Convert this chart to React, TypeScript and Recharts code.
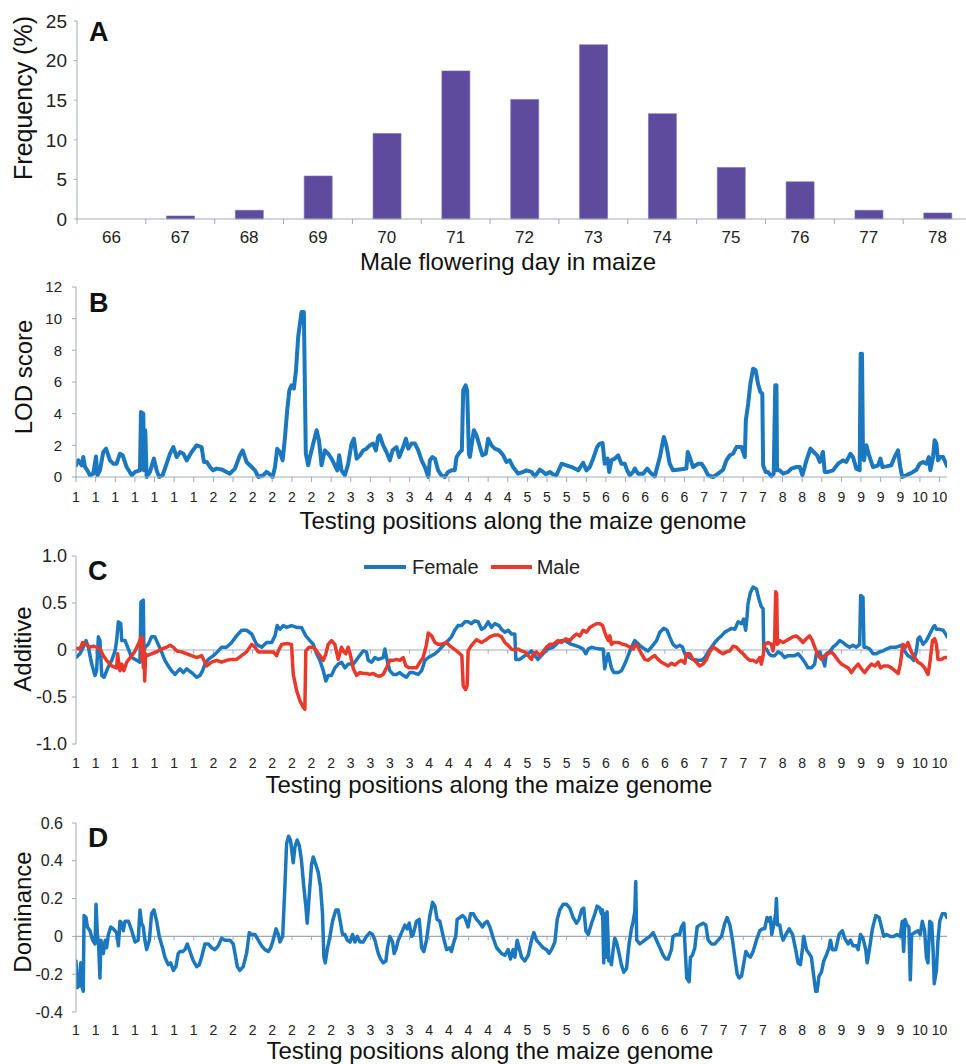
import React from 'react';
import { BarChart, Bar, LineChart, Line, XAxis, YAxis, ReferenceLine, Legend } from 'recharts';

const FONT = '"Liberation Sans", Arial, Helvetica, sans-serif';
const AXIS = '#9DABBA';
const TXT = '#222222';
const BLUE = '#1C78BE';
const RED = '#E8392B';
const PURPLE = '#5E4B9E';

// ---------- Panel A ----------
const days = ['66', '67', '68', '69', '70', '71', '72', '73', '74', '75', '76', '77', '78'];
const freq = [0, 0.38, 1.1, 5.43, 10.8, 18.7, 15.1, 22.0, 13.3, 6.5, 4.7, 1.1, 0.76];
const freqTicks = [0, 5, 10, 15, 20, 25];

// ---------- Shared genome axis ----------
const chrTicks = ['1','1','1','1','1','1','1','2','2','2','2','2','2','2','3','3','3','3','4','4','4','4','4','5','5','5','5','6','6','6','6','6','7','7','7','7','8','8','8','9','9','9','9','10','10'];
const posTicks = chrTicks.map((_, i) => i);
const genomeEnd = 44.38;

// ---------- Panel B (LOD) : [position, LOD] ----------
const lodPts = [[0,0.74],[0.12,1.05],[0.29,0.74],[0.37,1.26],[0.46,0.63],[0.58,0.42],[0.71,0.11],[0.88,0.21],[1.02,1.3],[1.09,0.11],[1.22,0.42],[1.39,1.58],[1.53,1.79],[1.73,1.05],[1.9,0.84],[2.07,0.84],[2.24,1.47],[2.38,1.37],[2.58,0.63],[2.84,0.11],[3.01,0.32],[3.26,0.42],[3.31,4.1],[3.43,4.0],[3.46,0.42],[3.53,2.95],[3.6,0],[3.77,0.32],[3.97,1.16],[4.11,0.42],[4.24,0],[4.41,0.11],[4.62,0.84],[4.79,1.47],[4.96,1.89],[5.13,1.26],[5.3,1.58],[5.47,1.47],[5.64,1.05],[5.89,1.58],[6.15,2.0],[6.4,1.89],[6.52,0.95],[6.66,0.95],[6.83,0.63],[6.99,0.42],[7.16,0.53],[7.42,0.48],[7.67,0.32],[7.84,0.21],[8.1,0.53],[8.35,1.37],[8.49,1.68],[8.69,0.95],[8.95,0.63],[9.12,0.42],[9.29,0],[9.54,0.11],[9.71,0.32],[9.88,0.17],[10.02,0],[10.14,0.63],[10.25,1.79],[10.39,1.58],[10.53,1.05],[10.65,2.53],[10.76,4.21],[10.87,5.47],[10.98,5.79],[11.1,5.58],[11.21,6.74],[11.32,8.84],[11.49,10.42],[11.61,10.42],[11.71,1.47],[11.83,0.74],[11.92,1.26],[12.09,2.11],[12.26,2.95],[12.38,2.32],[12.51,0.74],[12.68,1.68],[12.85,1.47],[13.02,1.16],[13.19,0.74],[13.31,0.42],[13.41,1.37],[13.53,0.42],[13.7,0.11],[13.87,0.84],[14.04,2.11],[14.16,2.42],[14.3,1.16],[14.47,1.37],[14.63,1.68],[14.8,1.79],[14.97,2.0],[15.14,2.11],[15.28,1.68],[15.4,2.53],[15.48,2.63],[15.65,2.0],[15.82,1.58],[15.99,1.05],[16.13,1.68],[16.33,1.89],[16.47,1.26],[16.67,1.89],[16.81,2.42],[16.93,1.79],[17.1,2.11],[17.27,2.11],[17.44,1.68],[17.61,1.05],[17.78,0.63],[17.95,0],[18.03,1.05],[18.15,1.26],[18.29,1.16],[18.45,0.42],[18.62,0.11],[18.79,0],[18.96,0.32],[19.13,0.42],[19.3,0.42],[19.39,1.26],[19.56,1.58],[19.66,1.68],[19.73,5.47],[19.85,5.79],[19.93,5.47],[20.02,1.47],[20.07,1.26],[20.27,2.95],[20.41,2.63],[20.58,1.89],[20.71,1.37],[20.88,1.47],[21.0,2.42],[21.17,2.0],[21.34,1.79],[21.56,1.68],[21.77,1.37],[21.93,0.95],[22.1,1.05],[22.27,0.63],[22.53,0.21],[22.78,0.32],[22.95,0.42],[23.21,0.32],[23.38,0.04],[23.63,0.46],[23.8,0.32],[23.94,0.17],[24.14,0.32],[24.31,0.17],[24.48,0.11],[24.74,0.84],[24.99,0.74],[25.33,0.59],[25.59,0.42],[25.84,0.9],[26.01,0.42],[26.18,0.63],[26.35,1.16],[26.55,1.89],[26.69,2.11],[26.83,2.15],[26.94,0.84],[27.08,1.16],[27.17,0.32],[27.28,1.05],[27.45,1.16],[27.62,1.37],[27.79,0.84],[27.96,0.84],[28.08,0.42],[28.22,0.11],[28.39,0.32],[28.47,0.53],[28.64,0.21],[28.9,0.21],[29.1,0.53],[29.32,0.21],[29.49,0.04],[29.75,1.26],[29.95,2.53],[30.08,2.0],[30.25,0.84],[30.42,0.42],[30.76,0.48],[31.1,0.53],[31.17,1.58],[31.27,1.26],[31.44,0.63],[31.7,0.84],[31.87,0.84],[32.04,0.53],[32.21,0.11],[32.46,0],[32.72,0.21],[32.97,0.46],[33.14,1.05],[33.31,1.37],[33.48,1.47],[33.65,1.89],[33.91,1.89],[34.08,1.26],[34.13,3.58],[34.25,4.63],[34.36,5.89],[34.5,6.84],[34.63,6.74],[34.75,5.89],[34.87,5.37],[34.97,5.26],[35.01,0.74],[35.14,0.32],[35.26,0.32],[35.43,0.04],[35.55,0.21],[35.63,5.79],[35.69,5.79],[35.72,0.42],[35.86,0.42],[36.03,0.21],[36.28,0.32],[36.45,0.53],[36.71,0.63],[36.88,0.63],[37.01,0.11],[37.22,1.05],[37.42,1.79],[37.59,1.58],[37.76,1.37],[37.9,0.95],[38.06,1.58],[38.15,0.32],[38.32,0.32],[38.57,0.42],[38.83,0.84],[39.08,1.05],[39.25,0.95],[39.46,1.47],[39.59,1.26],[39.76,0.53],[39.93,0.42],[39.98,7.79],[40.05,7.79],[40.1,1.16],[40.15,1.05],[40.27,2.0],[40.41,1.37],[40.61,0.63],[40.87,0.74],[40.99,1.16],[41.09,0.63],[41.3,0.67],[41.54,0.74],[41.71,1.26],[41.88,1.68],[42.0,0.63],[42.1,0],[42.31,0.11],[42.48,0.21],[42.65,0.32],[42.82,0.46],[42.99,0.84],[43.16,0.95],[43.33,0.84],[43.46,1.26],[43.53,0.42],[43.67,1.26],[43.75,2.32],[43.84,2.11],[43.92,1.05],[44.04,1.26],[44.18,1.26],[44.38,0.69]];
const lodTicks = [0, 2, 4, 6, 8, 10, 12];

// ---------- Panel C (Additive) ----------
const seriesNames = ['Female', 'Male'];
const femalePts = [[0,-0.08],[0.2,-0.04],[0.37,0.03],[0.51,0.1],[0.63,0.03],[0.8,-0.15],[0.97,-0.27],[1.05,-0.22],[1.14,0.14],[1.22,0.1],[1.31,-0.27],[1.43,-0.29],[1.6,-0.2],[1.82,-0.11],[1.99,-0.01],[2.07,0.1],[2.16,0.3],[2.28,0.28],[2.33,0.1],[2.5,0.1],[2.67,0.01],[2.84,-0.08],[3.09,-0.11],[3.26,-0.13],[3.31,0.51],[3.43,0.53],[3.46,-0.01],[3.53,0.03],[3.68,0.06],[3.85,0.14],[4.02,0.14],[4.19,0.06],[4.36,-0.02],[4.53,-0.11],[4.7,-0.17],[4.87,-0.22],[5.04,-0.26],[5.3,-0.2],[5.47,-0.24],[5.64,-0.2],[5.89,-0.24],[6.15,-0.29],[6.32,-0.27],[6.45,-0.22],[6.57,-0.15],[6.74,-0.1],[7.0,-0.06],[7.25,-0.01],[7.42,0.03],[7.67,0.03],[7.93,0.08],[8.18,0.15],[8.44,0.21],[8.69,0.21],[8.95,0.17],[9.2,0.06],[9.46,0.03],[9.71,0.08],[9.97,0.08],[10.14,0.15],[10.25,0.26],[10.39,0.22],[10.56,0.26],[10.73,0.24],[10.98,0.26],[11.24,0.24],[11.49,0.24],[11.71,0.15],[11.92,0.1],[12.09,0.06],[12.26,-0.04],[12.43,-0.11],[12.6,-0.22],[12.73,-0.33],[12.85,-0.27],[13.02,-0.27],[13.19,-0.19],[13.36,-0.15],[13.53,-0.13],[13.7,-0.19],[13.87,-0.15],[14.13,-0.15],[14.38,-0.08],[14.63,-0.01],[14.8,-0.02],[14.89,-0.11],[15.06,-0.13],[15.23,-0.08],[15.4,-0.1],[15.65,-0.08],[15.74,0.01],[15.82,-0.08],[15.99,-0.22],[16.16,-0.26],[16.33,-0.26],[16.5,-0.24],[16.67,-0.27],[16.84,-0.29],[17.01,-0.24],[17.18,-0.24],[17.44,-0.26],[17.61,-0.22],[17.78,-0.11],[17.95,-0.08],[18.12,-0.06],[18.29,-0.04],[18.46,-0.01],[18.71,0.05],[18.96,0.1],[19.13,0.14],[19.3,0.21],[19.47,0.26],[19.64,0.26],[19.81,0.3],[19.98,0.3],[20.15,0.28],[20.32,0.31],[20.49,0.3],[20.66,0.22],[20.83,0.24],[21.0,0.3],[21.17,0.24],[21.34,0.28],[21.56,0.26],[21.68,0.22],[21.85,0.19],[22.02,0.21],[22.19,0.17],[22.36,0.17],[22.41,-0.1],[22.61,-0.1],[22.87,-0.06],[23.04,-0.04],[23.21,-0.01],[23.38,-0.06],[23.54,-0.1],[23.71,-0.06],[23.88,-0.02],[24.05,0.01],[24.31,0.03],[24.56,0.08],[24.74,0.1],[24.91,0.1],[25.07,0.08],[25.24,0.06],[25.41,0.05],[25.67,0.03],[25.84,0.01],[25.98,-0.04],[26.1,0.01],[26.27,0.03],[26.44,0.02],[26.69,0.01],[26.86,0.01],[26.94,-0.2],[27.03,-0.1],[27.12,-0.04],[27.28,-0.19],[27.4,-0.24],[27.63,-0.24],[27.79,-0.22],[27.96,-0.15],[28.13,-0.06],[28.3,0.03],[28.47,0.1],[28.72,0.05],[28.98,0.01],[29.15,-0.01],[29.32,0.03],[29.58,0.1],[29.75,0.19],[29.95,0.23],[30.12,0.21],[30.25,0.14],[30.42,0.06],[30.59,0.03],[30.76,0.05],[30.9,0.03],[31.02,-0.04],[31.27,-0.08],[31.44,-0.1],[31.7,-0.11],[31.87,-0.11],[32.04,-0.08],[32.21,-0.02],[32.38,0.03],[32.55,0.08],[32.72,0.12],[32.89,0.15],[33.06,0.19],[33.23,0.21],[33.4,0.23],[33.57,0.22],[33.74,0.3],[33.91,0.28],[34.02,0.33],[34.12,0.21],[34.19,0.35],[34.24,0.49],[34.36,0.61],[34.5,0.67],[34.67,0.65],[34.8,0.54],[34.92,0.46],[35.01,0.44],[35.04,0.01],[35.18,0.01],[35.31,-0.04],[35.43,-0.06],[35.6,-0.06],[35.77,-0.02],[35.94,-0.04],[36.11,-0.08],[36.28,-0.06],[36.45,-0.06],[36.62,-0.06],[36.79,-0.04],[36.96,-0.08],[37.13,-0.13],[37.3,-0.19],[37.47,-0.19],[37.64,-0.15],[37.72,-0.04],[37.89,-0.02],[38.06,-0.11],[38.15,-0.17],[38.23,-0.04],[38.4,-0.02],[38.57,0.03],[38.74,0.06],[38.91,0.1],[39.08,0.08],[39.25,0.05],[39.42,0.03],[39.59,0.05],[39.76,0.03],[39.93,0.06],[39.98,0.58],[40.1,0.56],[40.15,0.03],[40.27,0.03],[40.44,0.01],[40.61,-0.04],[40.78,-0.04],[40.95,-0.02],[41.12,-0.01],[41.29,0.01],[41.54,0.03],[41.8,0.03],[42.05,0.05],[42.22,-0.01],[42.39,-0.06],[42.56,-0.08],[42.68,-0.11],[42.82,-0.01],[42.9,0.12],[42.99,0.14],[43.16,0.06],[43.33,0.1],[43.5,0.17],[43.67,0.24],[43.75,0.26],[43.84,0.22],[44.01,0.22],[44.18,0.21],[44.31,0.17],[44.38,0.14]];
const malePts = [[0,0.02],[0.2,0.01],[0.34,0.08],[0.51,0.06],[0.68,0.03],[0.88,0.04],[1.05,0.03],[1.22,0.01],[1.39,-0.06],[1.56,-0.11],[1.82,-0.17],[2.07,-0.19],[2.12,-0.04],[2.21,-0.19],[2.24,-0.22],[2.33,-0.15],[2.44,-0.22],[2.58,-0.13],[2.84,-0.06],[3.01,-0.01],[3.17,0.06],[3.26,0.1],[3.31,0.14],[3.36,-0.11],[3.4,0.12],[3.43,-0.19],[3.46,0.03],[3.5,-0.33],[3.55,-0.04],[3.63,-0.06],[3.85,-0.04],[4.11,-0.02],[4.36,0.01],[4.62,0.03],[4.79,0.05],[4.96,0.03],[5.13,-0.01],[5.38,-0.02],[5.64,-0.04],[5.89,-0.06],[6.15,-0.08],[6.4,-0.06],[6.52,-0.11],[6.66,-0.17],[6.91,-0.13],[7.16,-0.11],[7.42,-0.13],[7.67,-0.11],[7.93,-0.1],[8.18,-0.1],[8.44,-0.06],[8.69,-0.02],[8.95,0.06],[9.12,0.03],[9.29,-0.02],[9.54,-0.02],[9.8,-0.02],[10.05,-0.02],[10.22,-0.06],[10.31,-0.01],[10.48,0.06],[10.73,0.07],[10.98,0.06],[11.07,-0.26],[11.24,-0.43],[11.41,-0.54],[11.58,-0.61],[11.66,-0.63],[11.71,-0.01],[11.88,0.03],[12.09,0.03],[12.26,-0.01],[12.43,-0.06],[12.6,-0.11],[12.73,-0.04],[12.85,0.06],[13.02,0.1],[13.19,0.06],[13.36,-0.1],[13.53,0.03],[13.65,-0.02],[13.75,-0.04],[13.87,0.03],[13.99,-0.06],[14.13,-0.2],[14.3,-0.27],[14.47,-0.24],[14.63,-0.25],[14.8,-0.25],[14.97,-0.26],[15.14,-0.25],[15.31,-0.27],[15.48,-0.28],[15.65,-0.26],[15.82,-0.19],[15.99,-0.11],[16.16,-0.11],[16.33,-0.1],[16.5,-0.11],[16.67,-0.08],[16.81,-0.17],[16.98,-0.19],[17.18,-0.19],[17.35,-0.19],[17.52,-0.13],[17.69,-0.08],[17.86,0.06],[17.95,0.18],[18.12,0.15],[18.29,0.08],[18.46,0.06],[18.62,0.06],[18.87,0.08],[19.13,0.03],[19.39,-0.01],[19.56,-0.04],[19.66,-0.06],[19.73,-0.38],[19.85,-0.42],[19.93,-0.38],[19.98,-0.01],[20.15,0.05],[20.41,0.11],[20.66,0.08],[20.83,0.1],[21.09,0.14],[21.34,0.16],[21.51,0.16],[21.68,0.14],[21.85,0.08],[22.02,0.05],[22.19,0.01],[22.36,0],[22.53,0.01],[22.7,-0.01],[22.87,-0.02],[23.04,-0.06],[23.21,-0.1],[23.3,-0.04],[23.46,-0.02],[23.63,-0.06],[23.8,-0.02],[23.97,0.03],[24.14,0.06],[24.31,0.06],[24.56,0.1],[24.74,0.08],[24.96,0.12],[25.16,0.1],[25.33,0.14],[25.5,0.17],[25.67,0.15],[25.84,0.21],[26.01,0.19],[26.18,0.24],[26.35,0.26],[26.52,0.28],[26.69,0.28],[26.83,0.26],[26.94,0.19],[27.03,0.14],[27.12,0.1],[27.2,0.15],[27.28,0.06],[27.4,0.08],[27.63,0.08],[27.88,0.06],[28.05,0.05],[28.22,0.03],[28.39,0.01],[28.52,0.06],[28.64,0.03],[28.81,-0.04],[28.98,-0.1],[29.15,-0.11],[29.32,-0.08],[29.49,-0.06],[29.66,-0.1],[29.83,-0.13],[30.0,-0.15],[30.17,-0.17],[30.34,-0.14],[30.51,-0.16],[30.68,-0.13],[30.85,-0.11],[31.02,-0.14],[31.1,-0.04],[31.27,-0.04],[31.44,-0.1],[31.61,-0.13],[31.78,-0.17],[31.95,-0.15],[32.12,-0.1],[32.29,-0.02],[32.46,0.03],[32.63,0.01],[32.8,-0.02],[32.97,-0.04],[33.14,-0.02],[33.31,-0.01],[33.48,0.04],[33.65,0.03],[33.82,-0.01],[33.99,-0.04],[34.16,-0.08],[34.33,-0.11],[34.5,-0.11],[34.67,-0.13],[34.84,-0.08],[34.92,-0.15],[35.01,-0.06],[35.09,0.06],[35.26,0.08],[35.43,0.06],[35.51,-0.01],[35.6,0.1],[35.65,0.62],[35.7,0.6],[35.74,0.06],[35.86,0.1],[36.03,0.08],[36.2,0.1],[36.36,0.12],[36.53,0.14],[36.7,0.15],[36.87,0.12],[37.04,0.08],[37.21,0.12],[37.38,0.15],[37.52,0.1],[37.64,0.03],[37.81,-0.06],[37.98,-0.1],[38.15,-0.06],[38.32,-0.04],[38.49,-0.02],[38.66,-0.06],[38.83,-0.11],[39.0,-0.15],[39.17,-0.17],[39.34,-0.19],[39.51,-0.24],[39.68,-0.19],[39.85,-0.15],[40.02,-0.2],[40.19,-0.24],[40.36,-0.19],[40.53,-0.15],[40.7,-0.17],[40.87,-0.13],[40.99,-0.19],[41.16,-0.17],[41.38,-0.17],[41.55,-0.19],[41.72,-0.22],[41.89,-0.25],[42.0,-0.15],[42.14,0.06],[42.27,0.03],[42.39,0.08],[42.56,-0.02],[42.73,-0.08],[42.9,-0.13],[43.07,-0.15],[43.24,-0.19],[43.41,-0.26],[43.5,-0.15],[43.64,0.1],[43.75,0.12],[43.84,0.06],[43.92,-0.1],[44.09,-0.1],[44.26,-0.08],[44.38,-0.08]];
const addTicks = [-1, -0.5, 0, 0.5, 1];
const addTickLabels = ['-1.0', '-0.5', '0', '0.5', '1.0'];

// ---------- Panel D (Dominance) ----------
const domPts = [[0,-0.13],[0.07,-0.27],[0.17,-0.26],[0.24,-0.14],[0.31,-0.27],[0.37,-0.29],[0.41,0.11],[0.51,0.1],[0.58,0.05],[0.71,0.03],[0.85,-0.02],[0.97,-0.04],[1.02,0.17],[1.09,0.01],[1.15,-0.04],[1.22,-0.22],[1.27,-0.02],[1.39,-0.09],[1.49,-0.02],[1.56,-0.06],[1.65,0.01],[1.77,0.05],[1.9,0.04],[2.07,0.02],[2.16,-0.05],[2.24,0.08],[2.33,0.07],[2.41,0.03],[2.5,0.08],[2.67,0.08],[2.84,0.03],[3.01,-0.03],[3.17,-0.02],[3.26,0.14],[3.34,0.07],[3.43,0.05],[3.51,-0.02],[3.6,-0.07],[3.74,-0.02],[3.85,0.12],[3.97,0.14],[4.11,0.08],[4.24,0],[4.41,-0.06],[4.53,-0.11],[4.7,-0.15],[4.82,-0.14],[4.96,-0.18],[5.09,-0.16],[5.21,-0.09],[5.3,-0.08],[5.43,-0.08],[5.55,-0.07],[5.67,-0.04],[5.81,-0.08],[5.98,-0.13],[6.15,-0.16],[6.28,-0.15],[6.4,-0.11],[6.57,-0.04],[6.74,-0.04],[6.91,-0.06],[7.08,-0.07],[7.25,-0.05],[7.42,-0.01],[7.59,-0.02],[7.84,-0.02],[8.01,-0.04],[8.1,-0.09],[8.22,-0.16],[8.35,-0.18],[8.52,-0.16],[8.69,-0.09],[8.83,0.02],[8.95,0.01],[9.12,0.01],[9.29,-0.02],[9.46,-0.05],[9.63,-0.07],[9.8,-0.08],[9.92,-0.06],[10.05,-0.02],[10.19,0.04],[10.31,0.01],[10.39,-0.03],[10.53,0],[10.65,0.28],[10.73,0.49],[10.83,0.53],[10.93,0.51],[11.07,0.39],[11.15,0.47],[11.27,0.51],[11.38,0.48],[11.49,0.4],[11.61,0.26],[11.71,0.16],[11.78,0.07],[11.88,0.21],[12.0,0.38],[12.09,0.42],[12.22,0.38],[12.34,0.34],[12.46,0.26],[12.56,0.12],[12.63,-0.11],[12.7,-0.14],[12.8,-0.07],[12.94,0],[13.07,0.08],[13.24,0.14],[13.36,0.14],[13.48,0.07],[13.58,0.01],[13.7,0.01],[13.82,-0.02],[13.96,-0.03],[14.09,0.01],[14.21,-0.03],[14.33,0],[14.47,-0.03],[14.63,-0.03],[14.8,0],[14.97,0.02],[15.11,0.01],[15.23,-0.02],[15.4,-0.09],[15.52,-0.12],[15.65,-0.14],[15.79,-0.13],[15.87,-0.06],[15.99,0],[16.13,-0.03],[16.21,-0.09],[16.3,-0.07],[16.42,-0.02],[16.59,0.02],[16.76,0.06],[16.88,0.04],[16.98,0.07],[17.1,0],[17.18,0.01],[17.35,0.08],[17.49,0.09],[17.61,-0.06],[17.72,-0.08],[17.86,-0.02],[18.03,0.11],[18.17,0.18],[18.29,0.16],[18.4,0.09],[18.54,0.08],[18.71,0],[18.88,-0.07],[19.05,-0.06],[19.13,-0.08],[19.25,-0.03],[19.35,0],[19.42,0.09],[19.56,0.1],[19.69,0.11],[19.81,0.1],[19.98,0.05],[20.1,0.12],[20.24,0.12],[20.41,0.09],[20.58,0.07],[20.71,0.05],[20.83,0.07],[20.95,0.08],[21.09,0.05],[21.26,-0.01],[21.43,-0.06],[21.68,-0.09],[21.85,-0.1],[22.02,-0.07],[22.14,-0.12],[22.27,-0.07],[22.36,-0.11],[22.48,-0.02],[22.58,-0.06],[22.7,-0.11],[22.87,-0.13],[23.04,-0.1],[23.21,-0.02],[23.33,0.02],[23.46,-0.02],[23.63,-0.04],[23.8,-0.06],[23.97,-0.07],[24.11,-0.09],[24.23,-0.07],[24.4,-0.03],[24.52,0.09],[24.65,0.14],[24.82,0.17],[24.99,0.17],[25.16,0.15],[25.33,0.1],[25.5,0.07],[25.63,0.09],[25.76,0.14],[25.87,0.15],[25.98,0.03],[26.1,0.01],[26.27,0.07],[26.44,0.12],[26.55,0.16],[26.69,0.15],[26.77,0.12],[26.83,0.14],[26.89,-0.14],[26.96,0.12],[27.03,-0.11],[27.06,0.13],[27.15,-0.13],[27.23,-0.12],[27.28,-0.15],[27.37,-0.07],[27.45,-0.01],[27.54,-0.03],[27.67,-0.09],[27.79,-0.15],[27.91,-0.19],[28.05,-0.17],[28.18,-0.04],[28.3,0.04],[28.39,0.08],[28.47,0.13],[28.52,0.29],[28.57,-0.02],[28.73,-0.04],[28.98,-0.02],[29.24,0],[29.41,0.02],[29.58,-0.02],[29.75,-0.06],[29.92,-0.1],[30.05,-0.12],[30.17,-0.12],[30.34,-0.07],[30.42,0],[30.59,0.01],[30.76,0.01],[30.85,0.05],[30.97,0.07],[31.05,-0.09],[31.12,-0.22],[31.24,-0.24],[31.31,-0.11],[31.41,-0.1],[31.53,-0.06],[31.65,0.05],[31.78,0.06],[31.95,0.07],[32.09,0.06],[32.21,-0.02],[32.38,-0.04],[32.55,-0.04],[32.72,-0.02],[32.89,0],[33.06,0.07],[33.18,0.1],[33.32,0.06],[33.45,-0.02],[33.57,-0.11],[33.69,-0.2],[33.79,-0.22],[33.91,-0.21],[34.03,-0.14],[34.13,-0.08],[34.25,-0.1],[34.36,-0.11],[34.5,-0.08],[34.67,-0.02],[34.84,0.03],[34.97,0.04],[35.09,0.04],[35.21,0.1],[35.31,0.08],[35.38,0.1],[35.45,0.01],[35.55,0.06],[35.65,0.12],[35.69,0.2],[35.74,0.06],[35.86,0.06],[35.94,0.01],[36.03,-0.02],[36.17,0.01],[36.34,0.04],[36.51,0.01],[36.67,-0.07],[36.79,-0.14],[36.91,-0.15],[37.02,-0.06],[37.08,0],[37.22,-0.07],[37.35,-0.09],[37.47,-0.11],[37.59,-0.21],[37.69,-0.29],[37.76,-0.29],[37.86,-0.21],[37.98,-0.19],[38.1,-0.13],[38.23,-0.1],[38.37,-0.06],[38.44,-0.02],[38.54,-0.07],[38.71,-0.07],[38.88,0.01],[39.05,0.03],[39.17,-0.01],[39.34,-0.04],[39.46,-0.02],[39.59,-0.05],[39.76,-0.05],[39.85,-0.07],[39.97,0.01],[40.1,-0.01],[40.24,-0.07],[40.31,-0.14],[40.41,-0.08],[40.58,0.04],[40.75,0.11],[40.92,0.1],[41.04,0.05],[41.16,0],[41.29,0.01],[41.49,0],[41.66,0],[41.83,0.01],[42.0,0],[42.1,0.08],[42.17,-0.08],[42.24,0.09],[42.34,0.06],[42.44,0.05],[42.51,-0.23],[42.58,0.01],[42.73,0.02],[42.9,0.03],[43.02,0.01],[43.12,0.08],[43.24,0.03],[43.33,-0.11],[43.41,-0.14],[43.5,0.08],[43.6,0.07],[43.67,-0.07],[43.73,-0.25],[43.84,-0.18],[43.92,-0.02],[44.01,0.08],[44.14,0.12],[44.28,0.12],[44.38,0.1]];
const domTicks = [-0.4, -0.2, 0, 0.2, 0.4, 0.6];
const domTickLabels = ['-0.4', '-0.2', '0', '0.2', '0.4', '0.6'];

// ---------- Build library data ----------
const barData = days.map((d, i) => ({ day: d, freq: freq[i] }));
const toXY = (pts) => pts.map(([x, y]) => ({ x, y }));
const lodData = toXY(lodPts);
const femaleData = toXY(femalePts);
const maleData = toXY(malePts);
const domData = toXY(domPts);

const BandTick = (props) => {
  const { x, y, payload } = props;
  const off = payload && typeof payload.offset === 'number' ? payload.offset : 0;
  return (
    <g>
      <line x1={x - off} x2={x - off} y1={y - 12} y2={y - 7} stroke={AXIS} strokeWidth={1} />
      <text x={x} y={y} dy="0.71em" textAnchor="middle" fontSize={17} fill={TXT} fontFamily={FONT}>{payload.value}</text>
    </g>
  );
};

const genomeXAxisProps = {
  type: 'number',
  dataKey: 'x',
  domain: [0, genomeEnd],
  allowDataOverflow: true,
  ticks: posTicks,
  interval: 0,
  tickFormatter: (v) => chrTicks[v] ?? '',
  tick: { fontSize: 14, fill: TXT, fontFamily: FONT },
};

const lineProps = {
  dataKey: 'y',
  type: 'linear',
  dot: false,
  activeDot: false,
  isAnimationActive: false,
  strokeLinejoin: 'round',
  strokeLinecap: 'round',
};

const zeroTicks = (depth) =>
  posTicks.map((i) => (
    <ReferenceLine key={'zt' + i} segment={[{ x: i, y: 0 }, { x: i, y: -depth }]} stroke={AXIS} strokeWidth={1} />
  ));

const LegendContent = () => (
  <div style={{ display: 'flex', alignItems: 'center', fontSize: 20, fontFamily: FONT, color: TXT, lineHeight: '24px', whiteSpace: 'nowrap' }}>
    <svg width={42} height={8}><line x1={1} y1={4} x2={41} y2={4} stroke={BLUE} strokeWidth={4} strokeLinecap="round" /></svg>
    <span style={{ marginLeft: 6 }}>{seriesNames[0]}</span>
    <svg width={41} height={8} style={{ marginLeft: 12 }}><line x1={1} y1={4} x2={40} y2={4} stroke={RED} strokeWidth={4} strokeLinecap="round" /></svg>
    <span style={{ marginLeft: 5 }}>{seriesNames[1]}</span>
  </div>
);

export default function App() {
  return (
    <div style={{ position: 'absolute', left: 0, top: 0, width: 966, height: 1064, overflow: 'hidden', background: '#ffffff', fontFamily: FONT }}>
      {/* Panel A */}
      <div style={{ position: 'absolute', left: 0, top: 0 }}>
        <BarChart width={980} height={275} data={barData} margin={{ top: 21, right: 8, left: 0, bottom: 0 }} barCategoryGap="30%">
          <XAxis dataKey="day" height={56} interval={0} axisLine={{ stroke: AXIS }} tickLine={false} tickSize={4} tickMargin={8} tick={(p) => <BandTick {...p} />} />
          <YAxis width={77} type="number" domain={[0, 25]} ticks={freqTicks} interval={0} tickSize={3} tickMargin={7} axisLine={{ stroke: AXIS }} tickLine={{ stroke: AXIS }} tick={{ fontSize: 19, fill: TXT, fontFamily: FONT }} />
          <Bar dataKey="freq" fill={PURPLE} stroke="#7B6DB8" strokeWidth={0.6} isAnimationActive={false} />
        </BarChart>
      </div>

      {/* Panel B */}
      <div style={{ position: 'absolute', left: 0, top: 270 }}>
        <LineChart width={966} height={240} margin={{ top: 17, right: 19, left: 0, bottom: 0 }}>
          <XAxis {...genomeXAxisProps} height={33} tickSize={5} tickMargin={10} axisLine={{ stroke: AXIS }} tickLine={{ stroke: AXIS }} />
          <YAxis width={76} type="number" domain={[0, 12]} ticks={lodTicks} interval={0} tickSize={4} tickMargin={10} axisLine={{ stroke: AXIS }} tickLine={{ stroke: AXIS }} tick={{ fontSize: 15, fill: TXT, fontFamily: FONT }} />
          <Line {...lineProps} data={lodData} stroke={BLUE} strokeWidth={4} />
        </LineChart>
      </div>

      {/* Panel C */}
      <div style={{ position: 'absolute', left: 0, top: 540 }}>
        <LineChart width={966} height={240} margin={{ top: 16, right: 19, left: 0, bottom: 0 }}>
          <XAxis {...genomeXAxisProps} height={36} tickSize={6} tickMargin={8} axisLine={false} tickLine={false} />
          <YAxis width={76} type="number" domain={[-1, 1]} ticks={addTicks} interval={0} tickSize={4} tickMargin={5} tickFormatter={(v) => addTickLabels[addTicks.indexOf(v)]} axisLine={{ stroke: AXIS }} tickLine={{ stroke: AXIS }} tick={{ fontSize: 18, fill: TXT, fontFamily: FONT }} />
          <ReferenceLine y={0} stroke={AXIS} strokeWidth={1.2} />
          {zeroTicks(0.04)}
          <Line {...lineProps} name={seriesNames[0]} data={femaleData} stroke={BLUE} strokeWidth={3.5} />
          <Line {...lineProps} name={seriesNames[1]} data={maleData} stroke={RED} strokeWidth={3.5} />
          <Legend layout="horizontal" verticalAlign="middle" align="center" wrapperStyle={{ top: 15, left: 364, width: 260, height: 24 }} content={LegendContent} />
        </LineChart>
      </div>

      {/* Panel D */}
      <div style={{ position: 'absolute', left: 0, top: 805 }}>
        <LineChart width={966} height={259} margin={{ top: 18, right: 19, left: 0, bottom: 0 }}>
          <XAxis {...genomeXAxisProps} height={52} tickSize={6} tickMargin={7} axisLine={false} tickLine={false} />
          <YAxis width={76} type="number" domain={[-0.4, 0.6]} ticks={domTicks} interval={0} tickSize={4} tickMargin={9} tickFormatter={(v) => domTickLabels[domTicks.indexOf(v)]} axisLine={{ stroke: AXIS }} tickLine={{ stroke: AXIS }} tick={{ fontSize: 16, fill: TXT, fontFamily: FONT }} />
          <ReferenceLine y={0} stroke={AXIS} strokeWidth={1.2} />
          {zeroTicks(0.02)}
          <Line {...lineProps} data={domData} stroke={BLUE} strokeWidth={3.5} />
        </LineChart>
      </div>

      {/* Titles and panel letters */}
      <svg width={966} height={1064} style={{ position: 'absolute', left: 0, top: 0, pointerEvents: 'none' }}>
        <g fontFamily={FONT} fill="#111111">
          <text x={89} y={41} fontSize={27} fontWeight="bold">A</text>
          <text x={89} y={312} fontSize={27} fontWeight="bold">B</text>
          <text x={88} y={580} fontSize={27} fontWeight="bold">C</text>
          <text x={88} y={847} fontSize={28} fontWeight="bold">D</text>

          <text x={508} y={270} fontSize={24} textAnchor="middle">Male flowering day in maize</text>
          <text x={523} y={529} fontSize={24} textAnchor="middle">Testing positions along the maize genome</text>
          <text x={489} y={793} fontSize={24} textAnchor="middle">Testing positions along the maize genome</text>
          <text x={490} y={1059} fontSize={24} textAnchor="middle">Testing positions along the maize genome</text>

          <text x={32} y={98} fontSize={25} textAnchor="middle" transform="rotate(-90 32 98)">Frequency (%)</text>
          <text x={32} y={377} fontSize={24} textAnchor="middle" transform="rotate(-90 32 377)">LOD score</text>
          <text x={31} y={649} fontSize={24} textAnchor="middle" transform="rotate(-90 31 649)">Additive</text>
          <text x={31} y={912} fontSize={24} textAnchor="middle" transform="rotate(-90 31 912)">Dominance</text>
        </g>
      </svg>
    </div>
  );
}
